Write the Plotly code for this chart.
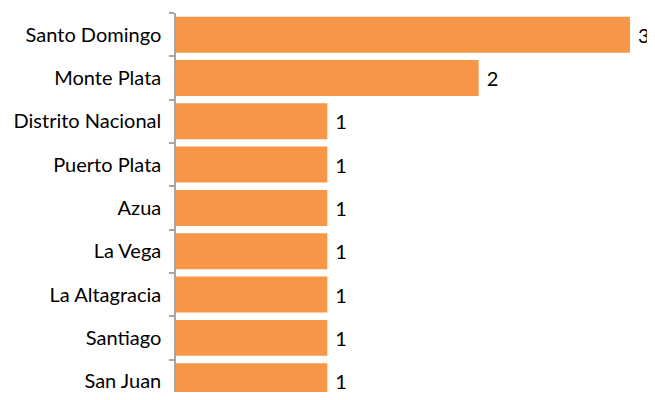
import plotly.graph_objects as go

categories = ["Santo Domingo", "Monte Plata", "Distrito Nacional", "Puerto Plata",
              "Azua", "La Vega", "La Altagracia", "Santiago", "San Juan"]
values = [3, 2, 1, 1, 1, 1, 1, 1, 1]

FONT = "Lato"

fig = go.Figure(go.Bar(
    x=values, y=categories, orientation="h",
    marker=dict(color="#F79646", line=dict(width=0)),
    width=0.83,
    text=values, textposition="outside", texttemplate="\u2009\u2009%{x}",
    textfont=dict(family=FONT, size=20, color="#000000"),
    cliponaxis=False,
))

# page body has an 8px margin on every side, so the figure is sized to fit
# inside the 655x400 window without scrollbars
fig.update_layout(
    width=647, height=384,
    margin=dict(l=168, r=25, t=5, b=0, autoexpand=False),
    paper_bgcolor="white", plot_bgcolor="white",
    showlegend=False,
    font=dict(family=FONT, size=20, color="#000000"),
    xaxis=dict(range=[0, 3], visible=False, showgrid=False, zeroline=False,
               automargin=False),
    yaxis=dict(
        type="category", categoryorder="array", categoryarray=categories,
        range=[8.25, -0.5], automargin=False,
        showline=True, linecolor="#A6A6A6", linewidth=1.5,
        ticks="outside", ticklen=5, tickcolor="#A6A6A6", tickwidth=1.5,
        tickson="boundaries", showgrid=False, zeroline=False,
        ticklabelstandoff=9,
        tickfont=dict(family=FONT, size=20, color="#000000"),
    ),
)

fig.write_html("out.html")
